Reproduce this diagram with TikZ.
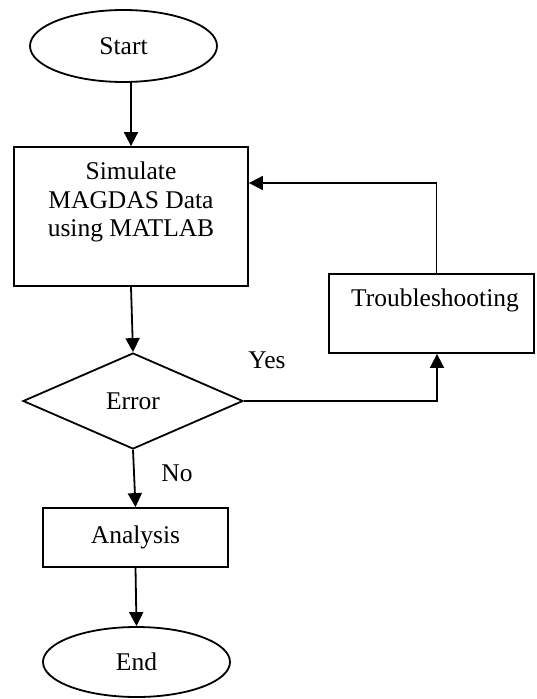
\documentclass[tikz,border=0pt]{standalone}
\usepackage{fontspec}
\setmainfont{Liberation Serif}
\usetikzlibrary{shapes.geometric,arrows.meta}
\begin{document}
\begin{tikzpicture}[x=1pt,y=-1pt,
  every node/.style={font=\fontsize{25.5}{28.5}\selectfont, text=black},
  shapebox/.style={draw, line width=1.8pt, inner sep=0pt},
  flowbox/.style={shapebox, rectangle},
  term/.style={shapebox, ellipse},
  decision/.style={shapebox, diamond},
  lbl/.style={inner sep=0pt},
  arr/.style={line width=1.8pt, -{Triangle[length=14pt,width=14pt]}}]
\useasboundingbox (0,0) rectangle (536,699);
\node[term, minimum width=187, minimum height=72] (start) at (123.5,46) {Start};
\node[flowbox, minimum width=234, minimum height=139] (sim) at (131,216.5) {};
\node[lbl, align=center] (simtxt) at (131,202) {Simulate\\MAGDAS Data\\using MATLAB};
\node[flowbox, minimum width=205, minimum height=79] (trouble) at (431.5,313.5) {};
\node[lbl] (troubletxt) at (435,300) {Troubleshooting};
\node[decision, minimum width=220, minimum height=96] (dia) at (133,401) {Error};
\node[flowbox, minimum width=185, minimum height=59] (ana) at (135.5,537.5) {Analysis};
\node[term, minimum width=187, minimum height=70] (end) at (136.5,662) {End};
\node[lbl] (yes) at (267,360) {Yes};
\node[lbl] (no) at (177,473) {No};
\draw[arr] (start.south -| sim.north) -- (sim.north);
\draw[arr] (sim.south) -- (dia.north);
\draw[arr] (dia.south) -- (ana.north);
\draw[arr] (ana.south) -- (end.north);
\draw[arr] (dia.east) -| ([xshift=5.5pt]trouble.south);
\draw[arr] ([xshift=5pt]trouble.north) |- ([yshift=33.5pt]sim.east);
\end{tikzpicture}
\end{document}
